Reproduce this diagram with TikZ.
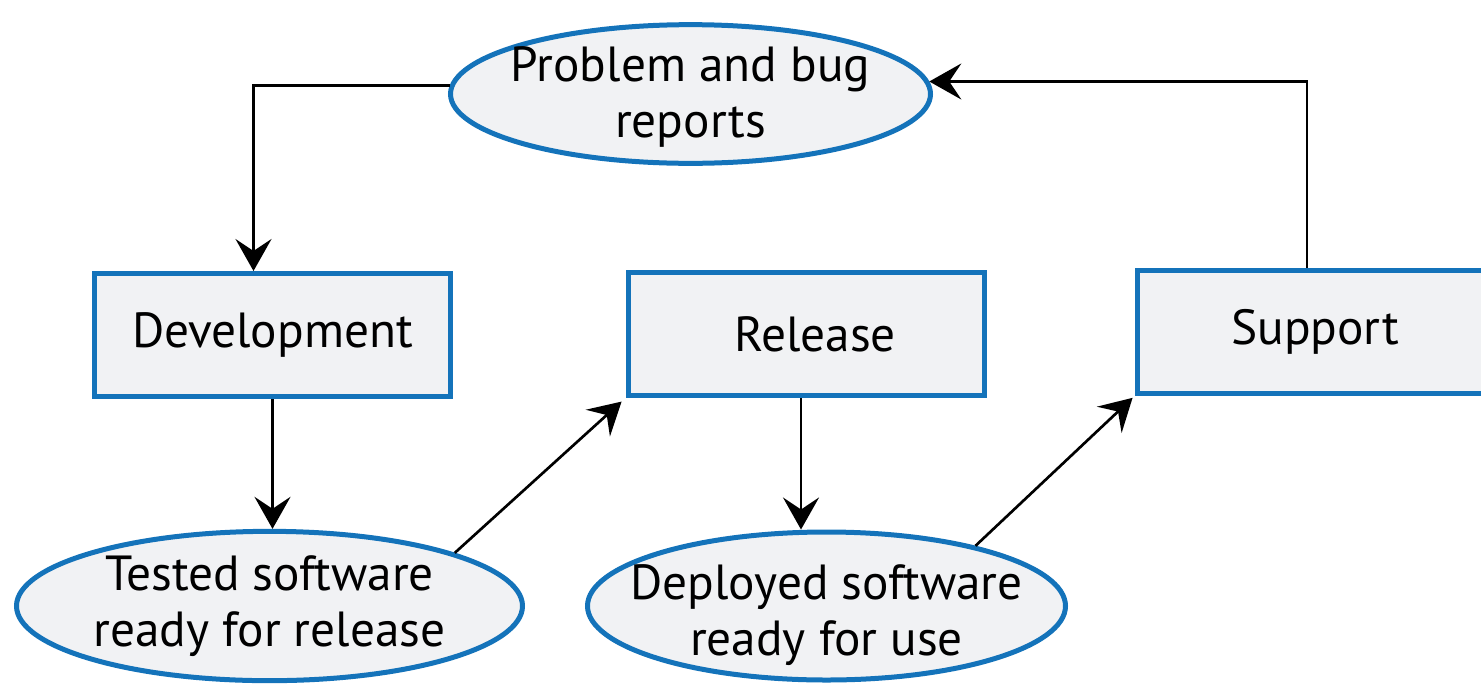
\documentclass[tikz,border=0pt]{standalone}
\usepackage{fontspec}
\setmainfont{PT Sans}
\usetikzlibrary{arrows.meta,shapes.geometric}
\definecolor{boxblue}{RGB}{20,115,186}
\definecolor{boxfill}{RGB}{241,242,244}
\tikzset{every picture/.style={line width=0.75pt}}
\tikzset{
  stagebox/.style={draw=boxblue,fill=boxfill,line width=3.75pt,inner sep=0pt,
    minimum width=267pt,minimum height=92.25pt},
  docblob/.style={ellipse,draw=boxblue,fill=boxfill,line width=3.75pt,inner sep=0pt},
  flow/.style={line width=2pt,-{Stealth[length=24pt,width=27pt,inset=9pt]}}
}

\begin{document}
\begin{tikzpicture}[x=0.75pt,y=0.75pt,yscale=-1,xscale=1,
  font=\fontsize{37}{42}\selectfont]
\useasboundingbox (0,0) rectangle (1481,686);

%Shape: Ellipse [id:problem]
\node [docblob,minimum width=360pt,minimum height=104pt,
  label={[align=center,yshift=-2pt]center:Problem and bug\\reports}] (problem) at (690.5,94) {};
%Shape: Rectangle [id:development]
\node [stagebox] (development) at (272.5,335) {Development};
%Shape: Rectangle [id:release]
\node [stagebox,label={[xshift=6.75pt]center:Release}] (release) at (806,334) {};
%Shape: Rectangle [id:support]
\node [stagebox] (support) at (1315,332) {Support};
%Shape: Ellipse [id:tested]
\node [docblob,minimum width=379.5pt,minimum height=112pt,
  label={[align=center]center:Tested software\\ready for release}] (tested) at (269.5,606) {};
%Shape: Ellipse [id:deployed]
\node [docblob,minimum width=358.5pt,minimum height=111pt,
  label={[align=center,yshift=-7pt]center:Deployed software\\ready for use}] (deployed) at (826.5,606) {};

%Straight Lines [id:reports to development]
\draw [flow] (problem.178) -| ([xshift=-14.25pt]development.north) ;
%Straight Lines [id:support to reports]
\draw [flow] ([xshift=-6pt]support.north) |- (problem.3) ;
%Straight Lines [id:development to tested]
\draw [flow] (development.south) -- (development.south |- tested.north) ;
%Straight Lines [id:tested to release]
\draw [flow,shorten >=4pt] (tested.16) -- (release.south west) ;
%Straight Lines [id:release to deployed]
\draw [flow] ([xshift=-3.75pt]release.south) -- ([xshift=-3.75pt]release.south |- deployed.north) ;
%Straight Lines [id:deployed to support]
\draw [flow,shorten >=2pt] (deployed.22) -- (support.south west) ;

\end{tikzpicture}
\end{document}
